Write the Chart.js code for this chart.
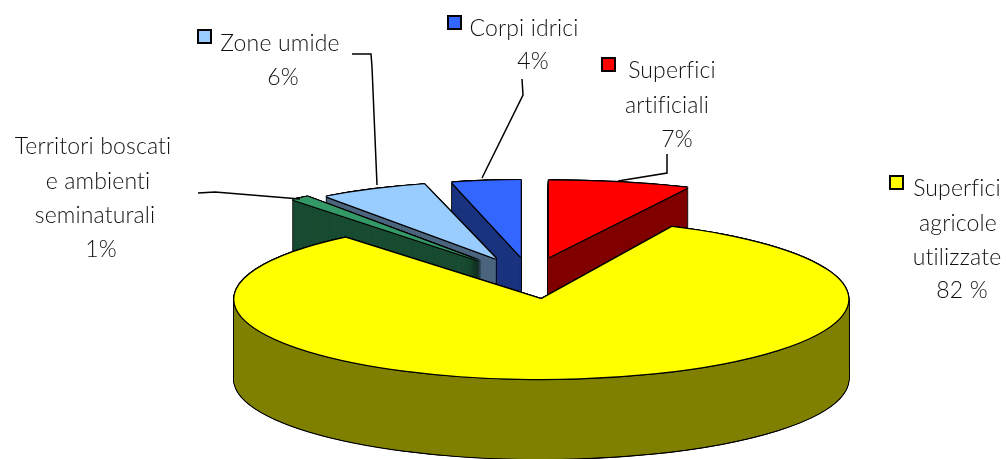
<!DOCTYPE html>
<html>
<head>
<meta charset="utf-8">
<style>html,body{margin:0;padding:0;background:#fff}canvas{display:block}</style>
<script src="https://cdn.jsdelivr.net/npm/chart.js@4"></script>
</head>
<body>
<canvas id="c" width="1006" height="459"></canvas>
<script>
const categories = ["Superfici artificiali", "Superfici agricole utilizzate", "Territori boscati e ambienti seminaturali", "Zone umide", "Corpi idrici"];
const values = [7, 82, 1, 6, 4];
const topColors = ["#ff0000", "#ffff00", "#339966", "#99ccff", "#3366ff"];
const wallColors = ["#800000", "#808000", "#1a4d33", "#4d667f", "#1a337f"];

const FONT = '300 23px Lato, "Open Sans", sans-serif';
const PIE = { cx: 531, cy: 278, radius: 307, depth: 80, explode: 82, squashExplode: 0.26 };
const sliceScaleX = [1.06, 1, 0.96, 0.94, 0.9];
const sliceSquash = [0.25, 0.26, 0.26, 0.25, 0.25];
const drawOrder = [0, 4, 3, 2, 1];

const labelTexts = [
  { t: "Zone umide", x: 280, y: 51 }, { t: "6%", x: 283, y: 85 },
  { t: "Territori boscati", x: 93, y: 154 }, { t: "e ambienti", x: 98, y: 189 },
  { t: "seminaturali", x: 95, y: 223 }, { t: "1%", x: 101, y: 257 },
  { t: "Corpi idrici", x: 524, y: 36 }, { t: "4%", x: 533, y: 69 },
  { t: "Superfici", x: 672, y: 78 }, { t: "artificiali", x: 667, y: 113 }, { t: "7%", x: 677, y: 147 },
  { t: "Superfici", x: 957, y: 196 }, { t: "agricole", x: 958, y: 231 }, { t: "utilizzate", x: 957, y: 265 }, { t: "82 %", x: 962, y: 298 }
];
const legendBoxes = [
  { i: 3, x: 198, y: 30 }, { i: 4, x: 448, y: 16 }, { i: 0, x: 602, y: 58 }, { i: 1, x: 890, y: 176 }
];
const leaders = [
  [[352, 54], [371, 54], [372, 67], [377, 185]],
  [[198, 193], [215, 192], [300, 199]],
  [[522, 79], [523, 95], [482, 178]],
  [[667, 154], [667, 173], [618, 181]]
];

function paint(ctx, el, i, color, lift, nx, ny) {
  const mid = (el.startAngle + el.endAngle) / 2;
  const saved = el.options;
  el.options = Object.assign({}, saved, { backgroundColor: color, borderWidth: 0, offset: 0 });
  ctx.save();
  ctx.translate(PIE.cx + Math.cos(mid) * PIE.explode + nx,
                PIE.cy + Math.sin(mid) * PIE.explode * PIE.squashExplode + lift + ny);
  ctx.scale(sliceScaleX[i], sliceSquash[i]);
  ctx.translate(-el.x, -el.y);
  el.draw(ctx);
  ctx.restore();
  el.options = saved;
}

const NUDGE = [[-1.2, 0], [1.2, 0], [0, -1.2], [0, 1.2], [-0.9, -0.9], [0.9, -0.9], [-0.9, 0.9], [0.9, 0.9]];

const pie3d = {
  id: "pie3d",
  beforeDatasetDraw(chart, args) {
    const ctx = chart.ctx;
    const arcs = args.meta.data;
    drawOrder.forEach(i => {
      const el = arcs[i];
      for (let d = PIE.depth; d >= 0; d--) {
        NUDGE.forEach(n => paint(ctx, el, i, "#000", d, n[0], n[1]));
      }
      for (let d = PIE.depth; d >= 0.5; d -= 0.25) {
        paint(ctx, el, i, wallColors[i], d, 0, 0);
      }
      NUDGE.forEach(n => paint(ctx, el, i, "#000", 0, n[0], n[1]));
      paint(ctx, el, i, topColors[i], 0, 0, 0);
    });
    return false;
  },
  afterDraw(chart) {
    const ctx = chart.ctx;
    ctx.save();
    ctx.strokeStyle = "#000";
    ctx.lineWidth = 1.5;
    leaders.forEach(l => {
      ctx.beginPath();
      l.forEach((p, j) => j ? ctx.lineTo(p[0], p[1]) : ctx.moveTo(p[0], p[1]));
      ctx.stroke();
    });
    legendBoxes.forEach(b => {
      ctx.fillStyle = topColors[b.i];
      ctx.fillRect(b.x, b.y, 13, 13);
      ctx.lineWidth = 2;
      ctx.strokeRect(b.x, b.y, 13, 13);
    });
    ctx.fillStyle = "#111";
    ctx.font = FONT;
    ctx.letterSpacing = "0.15px";
    ctx.textAlign = "center";
    ctx.textBaseline = "alphabetic";
    labelTexts.forEach(l => ctx.fillText(l.t, l.x, l.y));
    ctx.restore();
  }
};

new Chart(document.getElementById("c"), {
  type: "pie",
  data: {
    labels: categories,
    datasets: [{ data: values, backgroundColor: topColors, borderWidth: 0 }]
  },
  options: {
    responsive: false,
    animation: false,
    events: [],
    radius: PIE.radius,
    plugins: { legend: { display: false }, tooltip: { enabled: false } }
  },
  plugins: [pie3d]
});
</script>
</body>
</html>
